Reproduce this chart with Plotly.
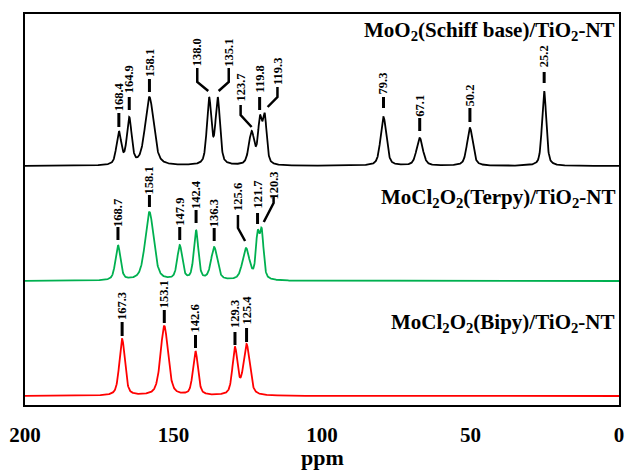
import numpy as np
import plotly.graph_objects as go

# ---------------- data ----------------
ppm_axis = np.linspace(200, 0, 2401)

# peak centres (ppm), apparent heights above baseline, FWHM (ppm)
schiff_pos = [168.4, 164.9, 158.1, 138.0, 135.1, 123.7, 120.9, 119.3, 79.3, 67.1, 50.2, 25.2]
schiff_h = [35, 49, 69, 69, 69, 35, 51, 53, 49, 28, 38, 75]
schiff_w = [1.9, 1.9, 3.4, 1.8, 1.8, 2.2, 1.5, 1.6, 2.3, 2.5, 2.3, 1.7]
schiff_base = 239

terpy_pos = [168.7, 158.1, 147.9, 142.4, 136.3, 125.6, 121.7, 120.3]
terpy_h = [36, 69, 36, 51, 34, 33, 51, 53]
terpy_w = [2.0, 3.4, 2.0, 1.8, 2.5, 2.8, 1.4, 1.5]
terpy_base = 124

bipy_pos = [167.3, 153.1, 142.6, 129.3, 125.4]
bipy_h = [57, 70, 45, 49, 52]
bipy_w = [2.2, 3.0, 2.0, 2.0, 2.5]
bipy_base = 9

tick_vals = [200, 150, 100, 50, 0]
tick_text = ["200", "150", "100", "50", "0"]

titles = ["MoO<sub>2</sub>(Schiff base)/TiO<sub>2</sub>-NT",
          "MoCl<sub>2</sub>O<sub>2</sub>(Terpy)/TiO<sub>2</sub>-NT",
          "MoCl<sub>2</sub>O<sub>2</sub>(Bipy)/TiO<sub>2</sub>-NT"]

# peak labels: straight ones (text, ppm, bar bottom, bar top, text centre y)
straight_labels = [
    ("168.4", 168.4, 278, 292, 308.5), ("164.9", 164.9, 295, 308, 326),
    ("158.1", 158.1, 313, 326, 342.5), ("119.8", 121.0, 295, 308, 326),
    ("79.3", 79.3, 297, 308, 322), ("67.1", 67.1, 274, 287, 299),
    ("50.2", 50.2, 283, 297, 309.5), ("25.2", 25.2, 322, 333, 349),
    ("168.7", 168.7, 165, 178, 192), ("158.1", 158.1, 198, 210, 225),
    ("147.9", 147.9, 165, 178, 193), ("142.4", 142.4, 182, 195, 210),
    ("136.3", 136.3, 164, 177, 192), ("121.7", 121.7, 181, 192, 210),
    ("167.3", 167.3, 69, 83, 99), ("153.1", 153.1, 82, 95, 111),
    ("142.6", 142.6, 57, 70, 87), ("129.3", 129.3, 60, 73, 91),
    ("125.4", 125.4, 63, 77, 95),
]
# bent leaders: (text, text ppm, text y, leader points)
bent_labels = [
    ("138.0", 142.0, 353, [(142.0, 337), (142.0, 323), (138.3, 314)]),
    ("135.1", 131.4, 352, [(131.4, 337), (131.4, 323), (134.8, 314)]),
    ("123.7", 127.4, 317, [(127.4, 300), (127.4, 290), (123.7, 278)]),
    ("119.3", 115.0, 333.5, [(115.0, 318), (115.0, 308), (118.3, 298)]),
    ("125.6", 128.3, 208, [(128.3, 190), (128.3, 177), (125.9, 164)]),
    ("120.3", 116.3, 219, [(116.3, 209), (116.3, 202), (119.6, 183)]),
]


def shape(x, c, w, eta=0.5):
    d = (x - c) / w
    g = np.exp(-4 * np.log(2) * d ** 2)
    l = 1.0 / (1.0 + 4 * d ** 2)
    return eta * l + (1 - eta) * g


def spectrum(pos, h, w, base):
    pos = np.array(pos, float)
    M = np.array([[shape(pi, pj, wj) for pj, wj in zip(pos, w)] for pi in pos])
    amps = np.linalg.solve(M, np.array(h, float))
    y = np.full_like(ppm_axis, float(base))
    for a, c, ww in zip(amps, pos, w):
        y += a * shape(ppm_axis, c, ww)
    return y


FONT = "Liberation Serif"
fig = go.Figure()
for pos, h, w, base, col in [
    (schiff_pos, schiff_h, schiff_w, schiff_base, "#000000"),
    (terpy_pos, terpy_h, terpy_w, terpy_base, "#00B050"),
    (bipy_pos, bipy_h, bipy_w, bipy_base, "#FF0000"),
]:
    fig.add_trace(go.Scatter(x=ppm_axis, y=spectrum(pos, h, w, base), mode="lines",
                             line=dict(color=col, width=1.8), showlegend=False,
                             hoverinfo="skip"))

shapes = []
annotations = []
for txt, x, y0, y1, yt in straight_labels:
    shapes.append(dict(type="line", xref="x", yref="y", x0=x, x1=x, y0=y0, y1=y1,
                       line=dict(color="black", width=3)))
    annotations.append(dict(x=x, y=yt, xref="x", yref="y", text=txt, textangle=-90,
                            showarrow=False, xanchor="center", yanchor="middle",
                            font=dict(family=FONT, size=12.5, color="black", weight="bold")))
for txt, x, yt, pts in bent_labels:
    path = "M " + " L ".join(f"{px},{py}" for px, py in pts)
    shapes.append(dict(type="path", xref="x", yref="y", path=path,
                       line=dict(color="black", width=2.5)))
    annotations.append(dict(x=x, y=yt, xref="x", yref="y", text=txt, textangle=-90,
                            showarrow=False, xanchor="center", yanchor="middle",
                            font=dict(family=FONT, size=12.5, color="black", weight="bold")))

for t, yy in zip(titles, [374, 207, 82]):
    annotations.append(dict(x=0.996, y=yy, xref="paper", yref="y", text=t, showarrow=False,
                            xanchor="right", yanchor="middle",
                            font=dict(family=FONT, size=21, color="black", weight="bold")))

annotations.append(dict(x=0.5, y=-0.135, xref="paper", yref="paper", text="ppm",
                        showarrow=False, xanchor="center", yanchor="middle",
                        font=dict(family=FONT, size=22, color="black", weight="bold")))

fig.update_layout(
    width=628, height=472,
    margin=dict(l=25, r=4, t=14, b=67),
    paper_bgcolor="white", plot_bgcolor="white",
    shapes=shapes, annotations=annotations,
    xaxis=dict(range=[200, 0], tickvals=tick_vals, ticktext=tick_text,
               showgrid=False, zeroline=False, showline=True, mirror=True,
               linecolor="black", linewidth=2, ticks="outside", ticklen=10,
               tickcolor="rgba(0,0,0,0)",
               tickfont=dict(family=FONT, size=21, color="black", weight="bold")),
    yaxis=dict(range=[0, 391], showticklabels=False, ticks="", showgrid=False,
               zeroline=False, showline=True, mirror=True, linecolor="black",
               linewidth=2),
)

fig.write_html("out.html")
